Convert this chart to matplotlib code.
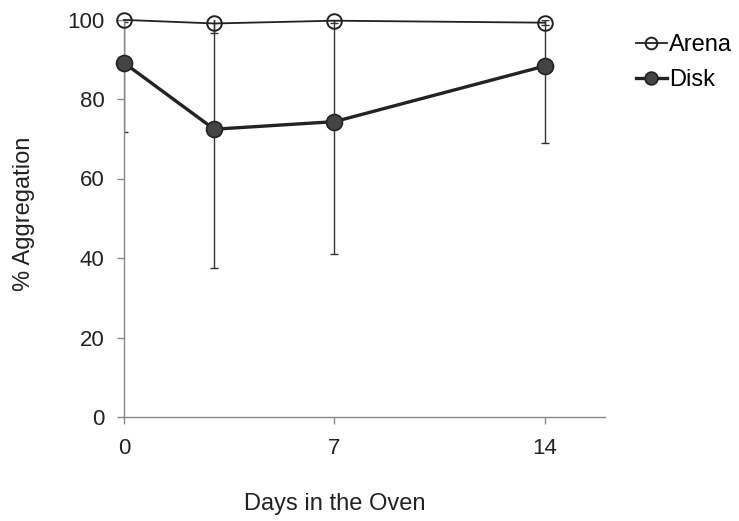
import matplotlib.pyplot as plt
import numpy as np

# values
days = [0, 3, 7, 14]
arena = [99.9, 99.0, 99.7, 99.2]
arena_err = [0.5, 2.5, 0.7, 0.6]
disk = [89.1, 72.4, 74.3, 88.3]
disk_err = [17.3, 34.8, 33.4, 19.4]

plt.rcParams['font.family'] = ['Liberation Sans', 'DejaVu Sans']

fig = plt.figure(figsize=(7.39, 5.21), dpi=100)
ax = fig.add_axes([124 / 739, 1 - 417 / 521, 481 / 739, 397.5 / 521])

# error bars (symmetric, clipped by the axes at 100)
ax.errorbar(days, disk, yerr=disk_err, fmt='none', ecolor='#333333',
            elinewidth=1.0, capsize=3, capthick=1.0, zorder=2)
ax.errorbar(days, arena, yerr=arena_err, fmt='none', ecolor='#333333',
            elinewidth=1.0, capsize=3, capthick=1.0, zorder=2)

ax.plot(days, arena, color='#222222', lw=1.3, marker='o', ms=10.5,
        mfc='none', mec='#222222', mew=1.4, label='Arena', zorder=4,
        clip_on=False)
ax.plot(days, disk, color='#222222', lw=2.4, marker='o', ms=11.5,
        mfc='#444444', mec='#222222', mew=1.2, label='Disk', zorder=3,
        clip_on=False)

ax.set_xlim(0, 16)
ax.set_ylim(0, 100)
ax.set_xticks([0, 7, 14])
ax.set_yticks(np.arange(0, 101, 20))

for side in ['top', 'right']:
    ax.spines[side].set_visible(False)
for side in ['left', 'bottom']:
    ax.spines[side].set_color('#888888')
    ax.spines[side].set_linewidth(1.0)

ax.tick_params(axis='both', colors='#888888', labelcolor='#222222',
               labelsize=16, length=5, width=1.0)
ax.tick_params(axis='y', pad=9)
ax.tick_params(axis='x', pad=10)

ax.set_ylabel('% Aggregation', fontsize=17, color='#222222')
ax.yaxis.set_label_coords(-0.185, 0.51)
ax.set_xlabel('Days in the Oven', fontsize=17, color='#222222')
ax.xaxis.set_label_coords(0.439, -0.192)

fig.legend(loc='upper left', bbox_to_anchor=(624 / 739, 1 - 22 / 521),
           frameon=False, fontsize=17, handlelength=1.3, markerscale=0.8,
           handletextpad=0.1, labelspacing=0.55, borderpad=0)

fig.savefig('out.png', dpi=100)
